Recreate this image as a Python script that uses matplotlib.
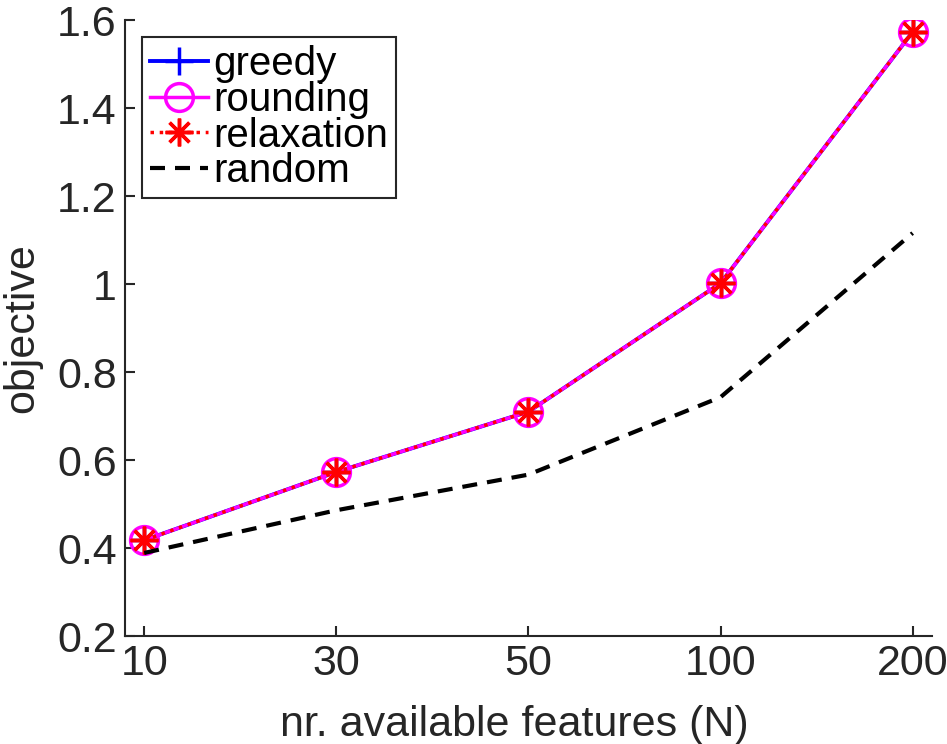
import matplotlib
matplotlib.use("Agg")
import matplotlib.pyplot as plt
import numpy as np

plt.rcParams['font.family'] = ['Liberation Sans', 'DejaVu Sans']

# data
n_features = ['10', '30', '50', '100', '200']
greedy = [0.418, 0.573, 0.710, 1.002, 1.573]
rounding = [0.418, 0.573, 0.710, 1.002, 1.573]
relaxation = [0.418, 0.573, 0.710, 1.002, 1.573]
random_sel = [0.389, 0.486, 0.567, 0.743, 1.116]

x = np.arange(1, len(n_features) + 1)
txt = '#262626'

fig = plt.figure(figsize=(9.47, 7.44), dpi=100)
ax = fig.add_axes([0.132, 0.145, 0.852, 0.828])

ax.plot(x, greedy, '-', color='#0000ff', lw=2.8, marker='+', ms=20, mew=2.5, label='greedy')
ax.plot(x, rounding, '-', color='#ff00ff', lw=2.5, marker='o', ms=20, mew=2.5,
        mfc='none', label='rounding')
ax.plot(x, relaxation, ':', color='#ff0000', lw=2.5, marker=(8, 2, 0), ms=20, mew=2.5,
        label='relaxation')
ax.plot(x, random_sel, '--', color='black', lw=3, dashes=(3.6, 2.4), label='random')

ax.set_xlim(0.9, 5.1)
ax.set_ylim(0.2, 1.6)
ax.set_xticks(x)
ax.set_xticklabels(n_features)
ax.set_yticks(np.arange(0.2, 1.61, 0.2))
ax.yaxis.set_major_formatter(matplotlib.ticker.FuncFormatter(lambda v, p: '%g' % round(v, 2)))

for s in ['top', 'right']:
    ax.spines[s].set_visible(False)
for s in ['left', 'bottom']:
    ax.spines[s].set_color(txt)
    ax.spines[s].set_linewidth(1.5)
ax.tick_params(direction='in', length=7, width=1.5, colors=txt, labelsize=31)
ax.tick_params(axis='x', pad=6)
ax.tick_params(axis='y', pad=6)

ax.set_xlabel('nr. available features (N)', fontsize=31, color=txt)
ax.set_ylabel('objective', fontsize=31, color=txt)
ax.xaxis.set_label_coords(0.483, -0.112)
ax.yaxis.set_label_coords(-0.102, 0.5)

leg = ax.legend(loc='upper left', bbox_to_anchor=(0.021, 0.972), fontsize=29,
                handlelength=1.45, handletextpad=0.12, labelspacing=-0.06,
                borderpad=0.2, borderaxespad=0, fancybox=False, framealpha=1,
                edgecolor=txt)
leg.get_frame().set_linewidth(1.5)

fig.savefig('out.png', dpi=100)
